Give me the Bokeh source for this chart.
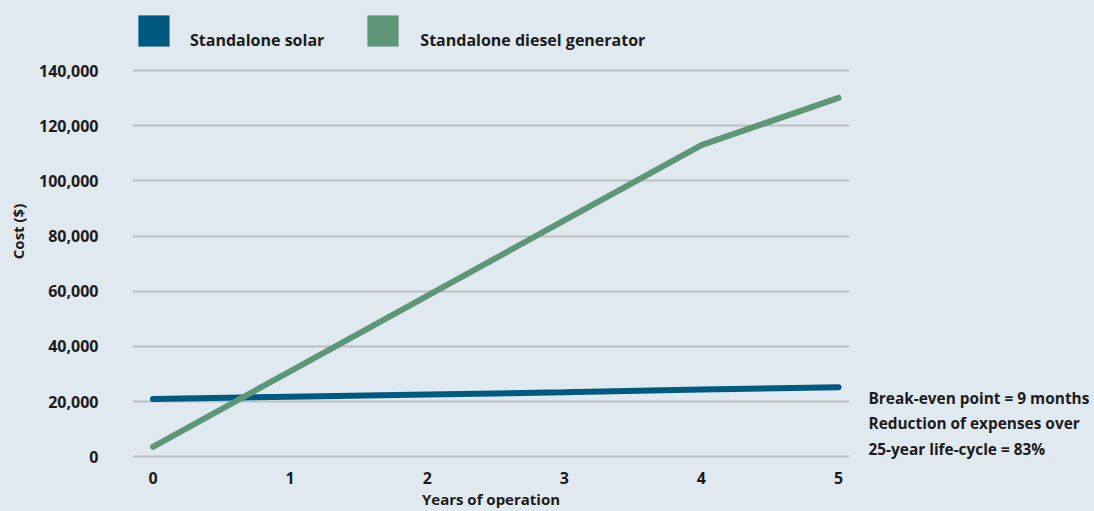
from bokeh.plotting import figure
from bokeh.layouts import row
from bokeh.models import (ColumnDataSource, Range1d, FixedTicker, NumeralTickFormatter,
                          Legend, LegendItem, Label)
from bokeh.embed import file_html
from bokeh.resources import INLINE

# ---- data ----
years = [0, 1, 2, 3, 4, 5]
solar_cost = [21000, 21800, 22600, 23400, 24400, 25200]
diesel_cost = [3600, 31000, 58300, 85700, 113000, 130100]
y_ticks = [0, 20000, 40000, 60000, 80000, 100000, 120000, 140000]
series_names = ["Standalone solar", "Standalone diesel generator"]
notes = ["Break-even point = 9 months",
         "Reduction of expenses over",
         "25-year life-cycle = 83%"]

BG = "#e1e9f0"
TXT = "#1b1b1b"
BLUE = "#005a80"
GREEN = "#5e9678"
FONT = "Open Sans"
FS = "16px"

H = 511
BOTTOM = 48
p = figure(width=860, height=H, output_backend="svg", toolbar_location=None,
           x_range=Range1d(-0.1495, 5.08), y_range=Range1d(-2060, 165400),
           min_border_left=132, min_border_right=11, min_border_top=0,
           min_border_bottom=BOTTOM)
p.background_fill_color = BG
p.border_fill_color = BG
p.outline_line_color = None

src = ColumnDataSource(dict(x=years, solar=solar_cost, diesel=diesel_cost))
p.line("x", "solar", source=src, line_color=BLUE, line_width=6, line_cap="round")
p.line("x", "diesel", source=src, line_color=GREEN, line_width=6, line_cap="round")

# zero-size blocks that only serve as legend swatches
sw_solar = p.block(x="x", y="solar", width=0, height=0, source=src,
                   fill_color=BLUE, line_color=None)
sw_diesel = p.block(x="x", y="diesel", width=0, height=0, source=src,
                    fill_color=GREEN, line_color=None)
sw_blank = p.block(x="x", y="solar", width=0, height=0, source=src,
                   fill_alpha=0, line_color=None)

# axes
p.xaxis.ticker = FixedTicker(ticks=years)
p.yaxis.ticker = FixedTicker(ticks=y_ticks)
p.yaxis.formatter = NumeralTickFormatter(format="0,0")
for ax in (p.xaxis[0], p.yaxis[0]):
    ax.axis_line_color = None
    ax.major_tick_line_color = None
    ax.minor_tick_line_color = None
    ax.major_tick_out = 0
    ax.major_tick_in = 0
    ax.major_label_text_font = FONT
    ax.major_label_text_font_style = "bold"
    ax.major_label_text_font_size = FS
    ax.major_label_text_color = TXT
    ax.axis_label_text_font = FONT
    ax.axis_label_text_font_style = "bold"
    ax.axis_label_text_font_size = "15px"
    ax.axis_label_text_color = TXT
p.xaxis.axis_label = "Years of operation"
p.yaxis.axis_label = "Cost ($)"
p.xaxis.major_label_standoff = 9
p.xaxis.axis_label_standoff = 2
p.yaxis.major_label_standoff = 34
p.yaxis.axis_label_standoff = 8

p.xgrid.grid_line_color = None
p.ygrid.grid_line_color = "#bcc0c4"
p.ygrid.grid_line_width = 2

common = dict(orientation="horizontal", glyph_width=39, glyph_height=39,
              label_standoff=17, spacing=40, padding=0, margin=0,
              border_line_color=None, background_fill_alpha=0,
              label_text_font=FONT, label_text_font_style="bold",
              label_text_font_size=FS, label_text_color=TXT)
# swatches (text sits a little lower than the swatch centres, so labels are a second legend)
legend_sw = Legend(items=[LegendItem(label=" ", renderers=[sw_solar]),
                          LegendItem(label=" ", renderers=[sw_diesel])],
                   location=(2, 412), label_width=133, **common)
legend_tx = Legend(items=[LegendItem(label=series_names[0], renderers=[sw_blank]),
                          LegendItem(label=series_names[1], renderers=[sw_blank])],
                   location=(2, 403), **common)
p.add_layout(legend_sw, "center")
p.add_layout(legend_tx, "center")

# side panel with the notes (frame aligned with the main plot's frame)
FRAME_H = H - BOTTOM
q = figure(width=234, height=H, output_backend="svg", toolbar_location=None,
           x_range=Range1d(0, 234), y_range=Range1d(0, FRAME_H),
           min_border_left=0, min_border_right=0, min_border_top=0,
           min_border_bottom=BOTTOM, x_axis_type=None, y_axis_type=None)
q.background_fill_color = BG
q.border_fill_color = BG
q.outline_line_color = None
q.grid.grid_line_color = None
for i, note in enumerate(notes):
    q.add_layout(Label(x=8, y=FRAME_H - 398.4 - 25.6 * i, text=note,
                       text_font=FONT, text_font_style="bold", text_font_size="15.4px",
                       text_color=TXT, text_baseline="alphabetic"))

layout = row(p, q, spacing=0)
html = file_html(layout, INLINE)
html = html.replace("</head>", "<style>html, body { background-color: %s; }</style></head>" % BG, 1)
open("out.html", "w").write(html)
